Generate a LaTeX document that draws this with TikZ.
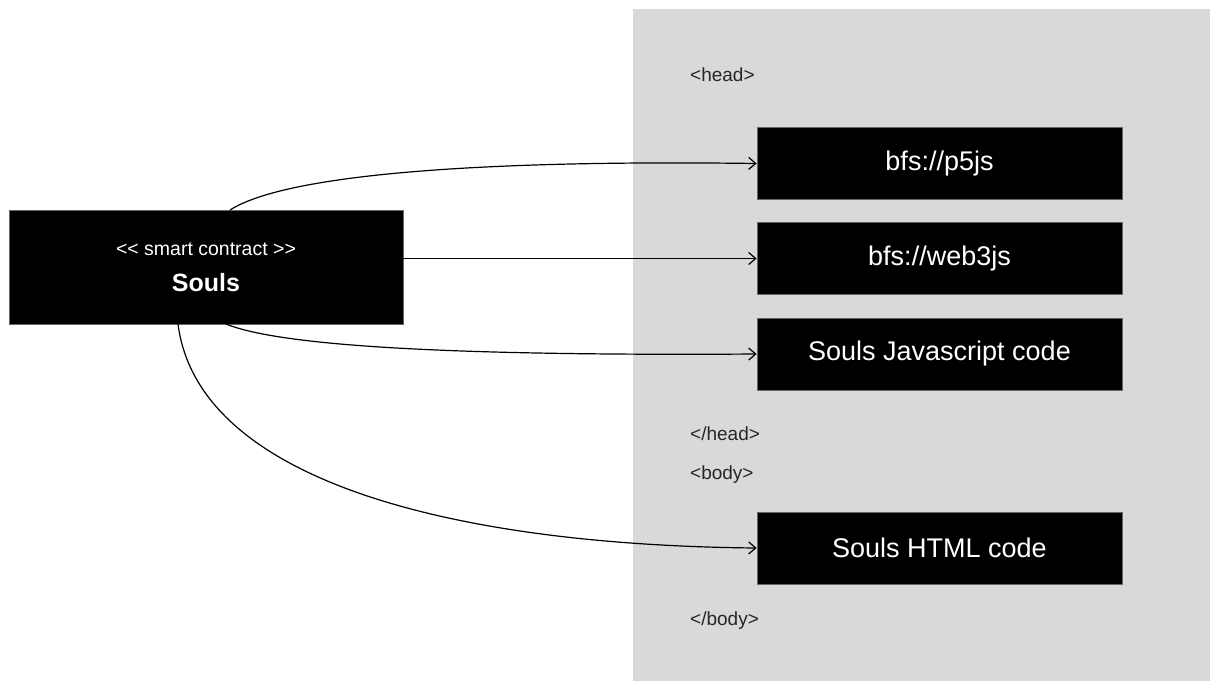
\documentclass[tikz,border=0pt]{standalone}
\usepackage{fontspec}
\setmainfont{Liberation Sans}
\usetikzlibrary{arrows.meta}
\begin{document}
\begin{tikzpicture}[x=1pt,y=-1pt,
  blackbox/.style={fill=black,draw=black!60,line width=0.8pt,text=white},
  tag/.style={anchor=west,inner sep=0pt,font=\fontsize{19}{21}\selectfont,text=black!85},
  conn/.style={line width=1.2pt,-{Straight Barb[length=7pt,width=12pt,line width=1.2pt]}}]
\useasboundingbox (0,0) rectangle (1210,681);
\fill[white] (0,0) rectangle (1210,681);
\fill[black!15] (633,9) rectangle (1210,681);
\node[blackbox,minimum width=394pt,minimum height=114pt,inner sep=0pt] (souls) at (206,267) {};
\node[text=white,font=\fontsize{19.5}{22}\selectfont] (st) at (206,249) {{<}{<} smart contract {>}{>}};
\node[text=white,font=\fontsize{25}{28}\selectfont\bfseries] (sn) at (206,283) {Souls};
\tikzset{rbox/.style={blackbox,minimum width=365pt,minimum height=72pt,inner sep=0pt,font=\fontsize{27}{30}\selectfont}}
\node[rbox] (p5) at (939.5,163.5) {bfs://p5js};
\node[rbox] (w3) at (939.5,258.5) {bfs://web3js};
\node[rbox] (js) at (939.5,354) {Souls Javascript code};
\node[rbox] (html) at (939.5,548) {Souls HTML code};
\node[tag] (h1) at (690,75) {<head>};
\node[tag] (h2) at (690,434) {</head>};
\node[tag] (b1) at (690,475) {<body>};
\node[tag] (b2) at (690,621) {</body>};
\coordinate (s1) at (230,210);
\coordinate (s3) at (226,324);
\coordinate (s4) at (178,324);
\draw[conn] (s1) .. controls (290,172) and (500,160) .. (p5.west);
\draw[conn] (souls.east |- w3.west) -- (w3.west);
\draw[conn] (s3) .. controls (280,346) and (450,356) .. (js.west);
\draw[conn] (s4) .. controls (198,480) and (450,545) .. (html.west);
\end{tikzpicture}
\end{document}
